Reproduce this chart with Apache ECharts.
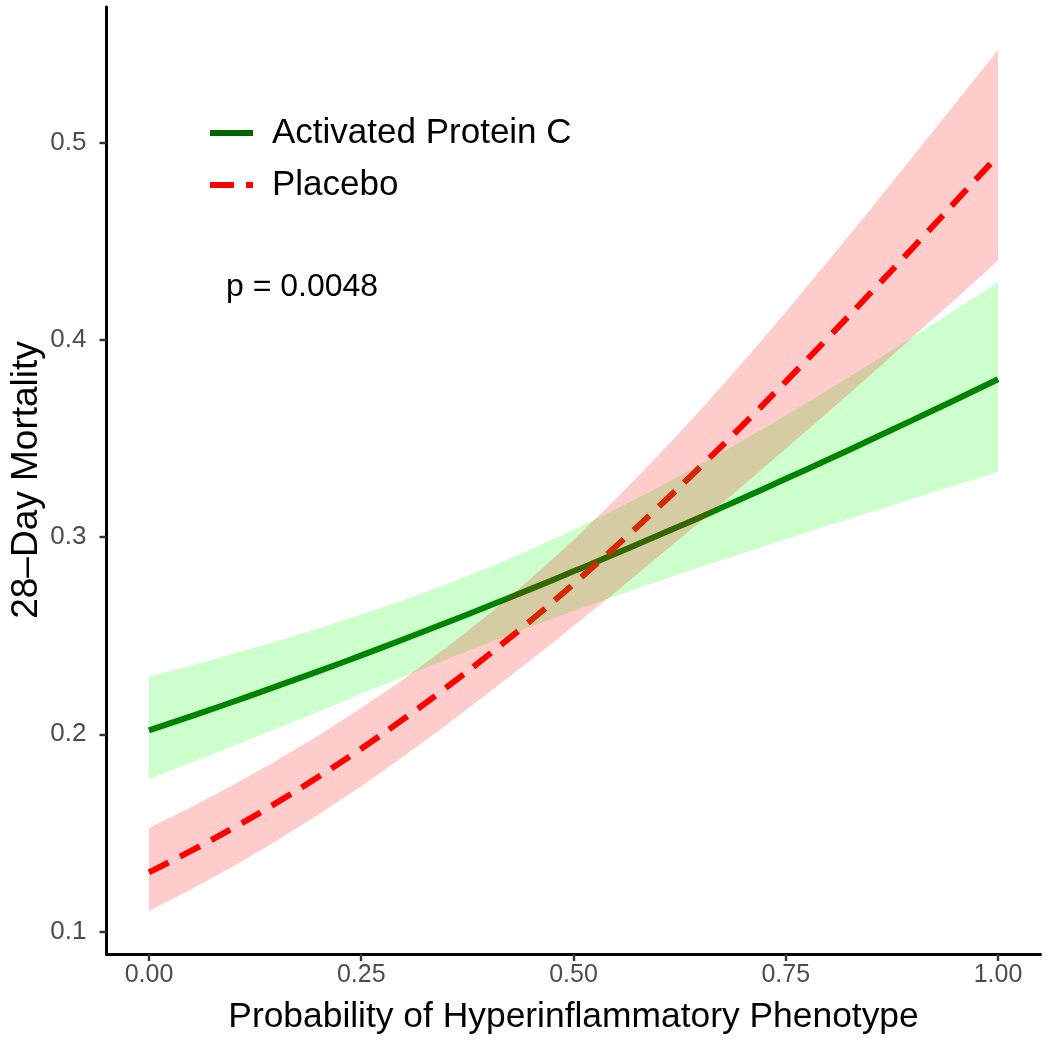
<!DOCTYPE html>
<html>
<head>
<meta charset="utf-8">
<script src="https://cdn.jsdelivr.net/npm/echarts@6/dist/echarts.min.js"></script>
<style>
html,body{margin:0;padding:0;background:#fff;}
#chart{width:1050px;height:1047px;}
</style>
</head>
<body>
<div id="chart"></div>
<script>
// Probability of hyperinflammatory phenotype (x)
const xs = [0.00, 0.05, 0.10, 0.15, 0.20, 0.25, 0.30, 0.35, 0.40, 0.45, 0.50,
            0.55, 0.60, 0.65, 0.70, 0.75, 0.80, 0.85, 0.90, 0.95, 1.00];
// Activated Protein C: fitted mortality and 95% band
const apcFit = [0.2020, 0.2092, 0.2166, 0.2243, 0.2320, 0.2400, 0.2482, 0.2565, 0.2650, 0.2737, 0.2826,
                0.2916, 0.3009, 0.3102, 0.3198, 0.3295, 0.3393, 0.3493, 0.3594, 0.3696, 0.3800];
const apcLo  = [0.1773, 0.1857, 0.1942, 0.2029, 0.2116, 0.2205, 0.2292, 0.2379, 0.2464, 0.2546, 0.2625,
                0.2702, 0.2776, 0.2848, 0.2919, 0.2989, 0.3058, 0.3126, 0.3195, 0.3263, 0.3331];
const apcHi  = [0.2292, 0.2349, 0.2409, 0.2472, 0.2537, 0.2607, 0.2681, 0.2760, 0.2846, 0.2938, 0.3036,
                0.3141, 0.3252, 0.3369, 0.3490, 0.3616, 0.3746, 0.3878, 0.4014, 0.4152, 0.4292];
// Placebo: fitted mortality and 95% band
const pboFit = [0.1300, 0.1410, 0.1527, 0.1652, 0.1786, 0.1927, 0.2078, 0.2236, 0.2403, 0.2578, 0.2762,
                0.2953, 0.3152, 0.3358, 0.3570, 0.3788, 0.4011, 0.4238, 0.4468, 0.4701, 0.4935];
const pboLo  = [0.1104, 0.1214, 0.1332, 0.1459, 0.1594, 0.1737, 0.1889, 0.2046, 0.2210, 0.2377, 0.2549,
                0.2723, 0.2901, 0.3080, 0.3262, 0.3447, 0.3634, 0.3823, 0.4015, 0.4207, 0.4402];
const pboHi  = [0.1525, 0.1631, 0.1745, 0.1866, 0.1995, 0.2133, 0.2280, 0.2438, 0.2608, 0.2790, 0.2985,
                0.3193, 0.3414, 0.3647, 0.3889, 0.4141, 0.4400, 0.4663, 0.4931, 0.5200, 0.5469];
// Tick values
const xTicks = [0, 0.25, 0.5, 0.75, 1];
const yTicks = [0.1, 0.2, 0.3, 0.4, 0.5];
const seriesNames = ['Activated Protein C', 'Placebo'];
const yTitle = '28\u2013Day Mortality';
const xTitle = 'Probability of Hyperinflammatory Phenotype';
const pLabel = 'p = 0.0048';

const FONT = "'Liberation Sans', Arial, Helvetica, sans-serif";
const pairs = (ys) => xs.map((x, i) => [x, ys[i]]);

// Ribbon drawn as one polygon through the axis scales
function ribbon(name, lo, hi, fill, z) {
  return {
    name: name, type: 'custom', silent: true, z: z, clip: true,
    data: xs.map((x, i) => [x, lo[i], hi[i]]),
    encode: { x: 0, y: [1, 2] },
    renderItem: function (params, api) {
      if (params.dataIndex !== 0) return null;
      const top = xs.map((x, i) => api.coord([x, hi[i]]));
      const bot = xs.map((x, i) => api.coord([x, lo[i]])).reverse();
      return {
        type: 'polygon',
        shape: { points: top.concat(bot) },
        style: { fill: fill, stroke: null }
      };
    }
  };
}

const legendCommon = {
  orient: 'vertical', left: 207, padding: 0,
  itemWidth: 43, itemHeight: 20, selectedMode: false,
  itemStyle: { opacity: 0 },
  textStyle: { fontFamily: FONT, fontSize: 35, color: '#000', lineHeight: 40, padding: [0, 0, 0, 14] }
};

const chart = echarts.init(document.getElementById('chart'), null, { renderer: 'canvas' });
chart.setOption({
  animation: false,
  backgroundColor: '#ffffff',
  grid: { left: 106.5, top: 7, width: 934, height: 947, containLabel: false, outerBoundsMode: 'none' },
  title: {
    text: pLabel, left: 221, top: 266,
    textStyle: { fontFamily: FONT, fontSize: 32, fontWeight: 'normal', color: '#000' }
  },
  graphic: [
    {
      type: 'text', x: 27, y: 480, rotation: Math.PI / 2, silent: true,
      style: {
        text: yTitle, fill: '#000', font: "37px 'Liberation Sans', Arial, sans-serif",
        align: 'center', verticalAlign: 'middle'
      }
    }
  ],
  legend: [
    Object.assign({}, legendCommon, {
      top: 113,
      data: [{ name: seriesNames[0], lineStyle: { color: '#006400', width: 6, type: 'solid' } }]
    }),
    Object.assign({}, legendCommon, {
      top: 165,
      data: [{ name: seriesNames[1], lineStyle: { color: '#FF0000', width: 6, type: [24, 12] } }]
    })
  ],
  xAxis: {
    type: 'value', min: -0.05, max: 1.05,
    name: xTitle,
    nameLocation: 'middle', nameGap: 46,
    nameTextStyle: { fontFamily: FONT, fontSize: 35.4, color: '#000' },
    splitLine: { show: false },
    axisLine: { show: true, onZero: false, lineStyle: { color: '#000', width: 3 } },
    axisTick: { show: true, customValues: xTicks, length: 7, lineStyle: { color: '#333', width: 2.4 } },
    axisLabel: {
      customValues: xTicks, margin: 9,
      formatter: (v) => v.toFixed(2),
      fontFamily: FONT, fontSize: 25, color: '#4D4D4D'
    }
  },
  yAxis: {
    type: 'value', min: 0.0886, max: 0.5687,
    splitLine: { show: false },
    axisLine: { show: true, onZero: false, lineStyle: { color: '#000', width: 3 } },
    axisTick: { show: true, customValues: yTicks, length: 7, lineStyle: { color: '#333', width: 2.4 } },
    axisLabel: {
      customValues: yTicks, margin: 20,
      formatter: (v) => v.toFixed(1),
      fontFamily: FONT, fontSize: 26, color: '#4D4D4D'
    }
  },
  series: [
    {
      name: seriesNames[0], type: 'line', symbol: 'none', smooth: true, z: 2,
      color: '#006400',
      lineStyle: { color: '#006400', width: 6 },
      data: pairs(apcFit)
    },
    {
      name: seriesNames[1], type: 'line', symbol: 'none', smooth: true, z: 2,
      color: '#FF0000',
      lineStyle: { color: '#FF0000', width: 6, type: [22, 13], cap: 'butt' },
      data: pairs(pboFit)
    },
    ribbon('apcBand', apcLo, apcHi, 'rgba(0,255,0,0.2)', 3),
    ribbon('pboBand', pboLo, pboHi, 'rgba(255,0,0,0.2)', 4)
  ]
});
</script>
</body>
</html>
